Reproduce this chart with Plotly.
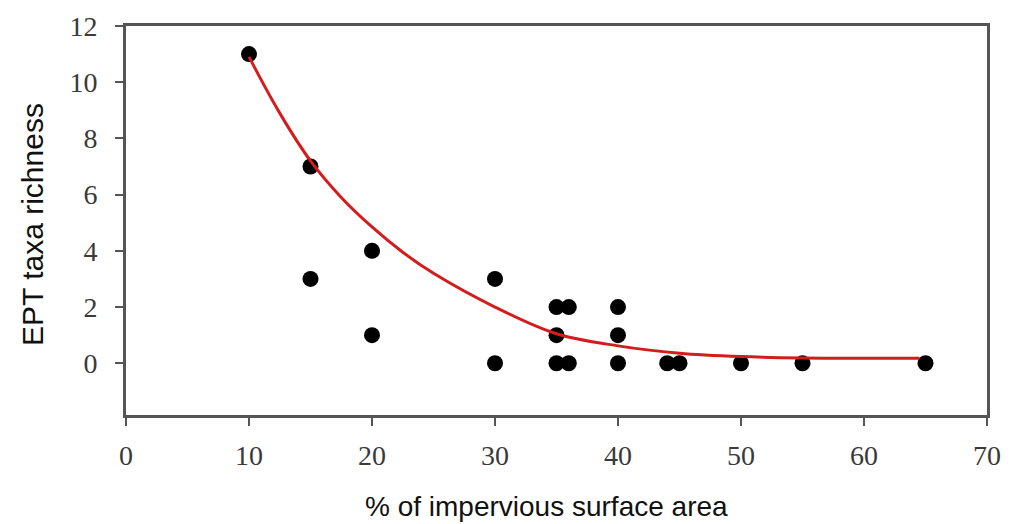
import plotly.graph_objects as go

# Observed data points (% impervious surface area, EPT taxa richness)
impervious = [10, 15, 15, 20, 20, 30, 30, 35, 35, 35, 36, 36, 40, 40, 40, 44, 45, 50, 55, 65]
richness   = [11, 7, 3, 4, 1, 3, 0, 2, 1, 0, 2, 0, 2, 1, 0, 0, 0, 0, 0, 0]

# Fitted curve
fit_x = [10, 12.5, 15, 17.5, 20, 22.5, 25, 30, 35, 40, 45, 50, 55, 60, 64.5]
fit_y = [10.9, 8.9, 7.2, 5.9, 4.85, 3.95, 3.2, 2.0, 1.05, 0.62, 0.36, 0.24, 0.19, 0.18, 0.18]

x_ticks = [0, 10, 20, 30, 40, 50, 60, 70]
y_ticks = [0, 2, 4, 6, 8, 10, 12]

x_title = "% of impervious surface area"
y_title = "EPT taxa richness"

fig = go.Figure()
fig.add_trace(go.Scatter(
    x=impervious, y=richness, mode="markers",
    marker=dict(color="black", size=16, line=dict(width=0)),
    showlegend=False, cliponaxis=False,
))
fig.add_trace(go.Scatter(
    x=fit_x, y=fit_y, mode="lines", line_shape="spline",
    line=dict(color="rgb(212,28,28)", width=3),
    showlegend=False,
))

axis_common = dict(
    showgrid=False, zeroline=False, showline=True, mirror=True,
    linecolor="#555555", linewidth=3,
    ticks="outside", tickcolor="#555555", tickwidth=2, ticklen=8,
    tickfont=dict(family="Liberation Serif, Times New Roman, serif", size=28, color="#3a3a3a"),
)

fig.update_layout(
    width=1012, height=524,
    margin=dict(l=126, r=11, t=18, b=109),
    paper_bgcolor="white", plot_bgcolor="white",
    xaxis=dict(range=[0, 70], tickvals=x_ticks, ticktext=[str(v) for v in x_ticks],
               ticklabelstandoff=5, **axis_common),
    yaxis=dict(range=[-1.84, 12], tickvals=y_ticks, ticktext=[str(v) for v in y_ticks],
               ticklabelstandoff=12, **axis_common),
    annotations=[
        dict(text=x_title, xref="paper", yref="paper", x=0.488, y=-0.234,
             xanchor="center", yanchor="middle", showarrow=False,
             font=dict(family="Liberation Sans, Arial, sans-serif", size=28, color="#111111")),
        dict(text=y_title, xref="paper", yref="paper", x=-0.108, y=0.4885,
             xanchor="center", yanchor="middle", showarrow=False, textangle=-90,
             font=dict(family="Liberation Sans, Arial, sans-serif", size=30, color="#111111")),
    ],
)

fig.write_html("out.html")
